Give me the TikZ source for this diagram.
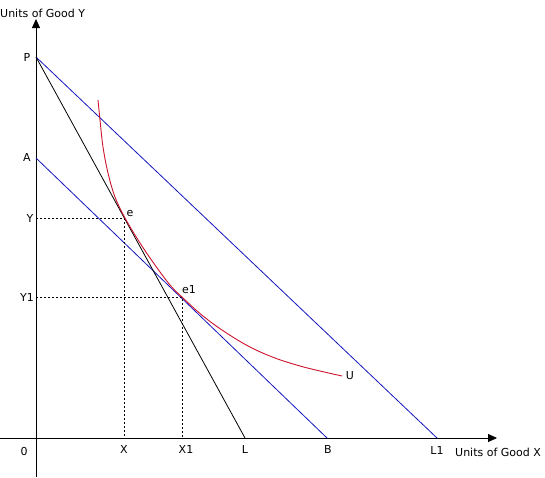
\documentclass[tikz,border=0pt]{standalone}
\usepackage{fontspec}
\setmainfont{DejaVu Sans}
\usetikzlibrary{arrows.meta}
\tikzset{
	>={Triangle[length=9pt,width=8pt]},
	axis/.style={black, line width=0.8pt, ->},
	budget/.style={blueA, line width=0.8pt},
	price/.style={black, line width=0.8pt},
	indiff/.style={redA, line width=0.9pt},
	guide/.style={black, line width=0.7pt, dash pattern=on 2pt off 2pt},
	lbl/.style={font=\fontsize{11}{12}\selectfont, inner sep=0pt},
}
\begin{document}
\begin{tikzpicture}[x=1pt, y=-1pt, line cap=butt, line join=round]
		
		% ---- Colors ----
		\definecolor{blueA}{RGB}{20,20,190}
		\definecolor{redA}{RGB}{205,20,45}
		
		\useasboundingbox (0,0) rectangle (545,477);
		
		% ---- Axes ----
		\coordinate (O) at (36,438);
		\coordinate (ybot) at (36,477);
		\coordinate (ytop) at (36,19);
		\coordinate (xleft) at (0,438);
		\coordinate (xright) at (497,438);
		\draw[axis] (ybot) -- (ytop);
		\draw[axis] (xleft) -- (xright);
		\node[lbl, anchor=west] (ytitle) at (0,13) {Units of Good Y};
		\node[lbl, anchor=west] (xtitle) at (455,452) {Units of Good X};
		\node[lbl] (zero) at (24,451) {0};
		
		% ---- Intercepts ----
		\coordinate (P) at (36,57);
		\coordinate (A) at (36,158);
		\coordinate (L) at (245,438);
		\coordinate (B) at (327,438);
		\coordinate (L1) at (437,438);
		\node[lbl] (Plbl) at (27,57) {P};
		\node[lbl] (Albl) at (27,157) {A};
		\node[lbl] (Llbl) at (245,449) {L};
		\node[lbl] (Blbl) at (328,449) {B};
		\node[lbl] (L1lbl) at (437,450) {L1};
		
		% ---- Budget lines ----
		\draw[budget] (P) -- (L1);
		\draw[budget] (A) -- (B);
		\draw[price] (P) -- (L);
		
		% ---- Equilibrium points ----
		\coordinate (e) at (124,218);
		\coordinate (e1) at (182,297);
		\coordinate (Ye) at (36,218);
		\coordinate (Xe) at (124,438);
		\coordinate (Ye1) at (36,297);
		\coordinate (Xe1) at (182,438);
		\draw[guide] (Ye) -- (e) -- (Xe);
		\draw[guide] (Ye1) -- (e1) -- (Xe1);
		\node[lbl] (Ylbl) at (30,218) {Y};
		\node[lbl] (Y1lbl) at (27,297) {Y1};
		\node[lbl] (Xlbl) at (124,449) {X};
		\node[lbl] (X1lbl) at (186,449) {X1};
		\node[lbl] (elbl) at (130,213) {e};
		\node[lbl] (e1lbl) at (189,290) {e1};
		
		% ---- Indifference curve U ----
		\draw[indiff] plot[smooth, tension=0.6] coordinates {(98,100) (100,120) (103,147) (108,173) (115,197) (125,218) (140,243) (155,265) (170,285) (183,298) (203,316) (225,332) (250,347) (275,358) (300,366) (320,371) (342,376)};
		\node[lbl] (Ulbl) at (350,376) {U};
		
	\end{tikzpicture}
\end{document}
